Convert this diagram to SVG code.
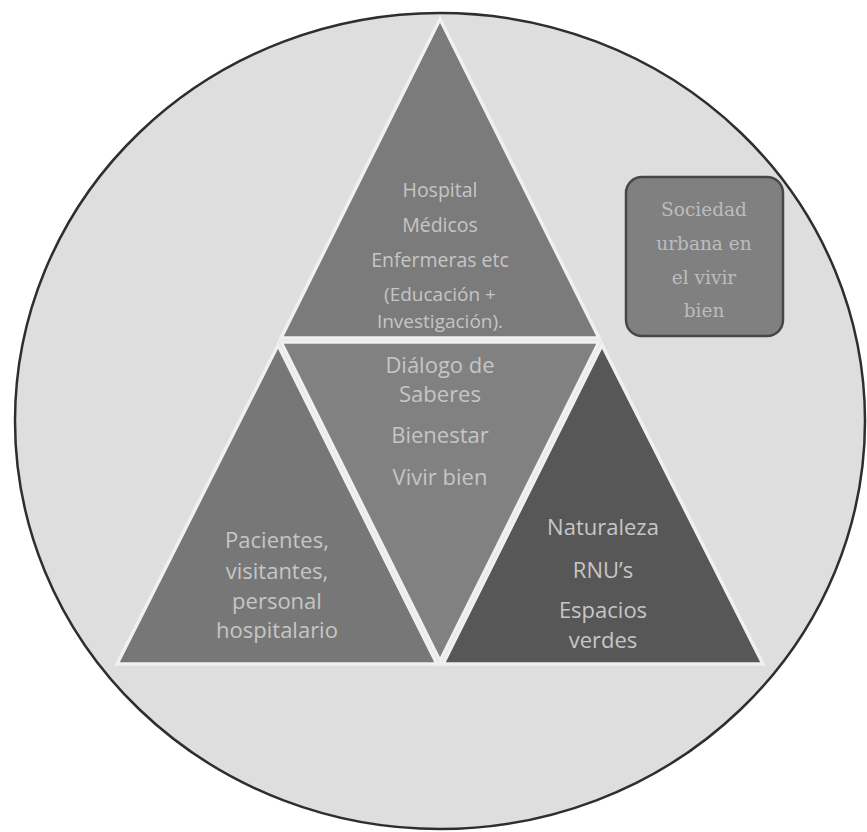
<svg xmlns="http://www.w3.org/2000/svg" width="867" height="832" viewBox="0 0 867 832">
<style>
.tri{stroke:#f0f0f0;stroke-width:3.5;stroke-linejoin:miter}
.t{font-family:"Open Sans","Liberation Sans",sans-serif;fill:#c6c6c6;text-anchor:middle}
.s{font-size:19.5px}
.s2{font-size:19px}
.l{font-size:22px}
.b{font-family:"DejaVu Serif","Liberation Serif",serif;font-size:18.5px;fill:#bdbdbd;text-anchor:middle}
</style>
<rect width="867" height="832" fill="#ffffff"/>
<g id="circle">
<ellipse cx="440" cy="421" rx="425" ry="408" fill="#dedede" stroke="#2e2e2e" stroke-width="2.5"/>
</g>
<g id="top">
<polygon class="tri" points="440,19 281,338 599,338" fill="#7b7b7b"/>
<text class="t s" x="440" y="197">Hospital</text>
<text class="t s" x="440" y="232">Médicos</text>
<text class="t s" x="440" y="267">Enfermeras etc</text>
<text class="t s2" x="440" y="301">(Educación +</text>
<text class="t s2" x="440" y="328">Investigación).</text>
</g>
<g id="middle">
<polygon class="tri" points="281,342 599,342 440,661" fill="#818181"/>
<text class="t l" x="440" y="373">Diálogo de</text>
<text class="t l" x="440" y="402">Saberes</text>
<text class="t l" x="440" y="443">Bienestar</text>
<text class="t l" x="440" y="485">Vivir bien</text>
</g>
<g id="left">
<polygon class="tri" points="278,345 117,664 437,664" fill="#777777"/>
<text class="t l" x="277" y="548">Pacientes,</text>
<text class="t l" x="277" y="579">visitantes,</text>
<text class="t l" x="277" y="609">personal</text>
<text class="t l" x="277" y="638">hospitalario</text>
</g>
<g id="right">
<polygon class="tri" points="602,345 443,664 763,664" fill="#575757"/>
<text class="t l" x="603" y="535">Naturaleza</text>
<text class="t l" x="603" y="578">RNU’s</text>
<text class="t l" x="603" y="618">Espacios</text>
<text class="t l" x="603" y="648">verdes</text>
</g>
<g id="box">
<rect x="626" y="177" width="157" height="159" rx="16" fill="#808080" stroke="#474747" stroke-width="2.5"/>
<text class="b" x="704" y="216">Sociedad</text>
<text class="b" x="704" y="250">urbana en</text>
<text class="b" x="704" y="284">el vivir</text>
<text class="b" x="704" y="317">bien</text>
</g>
<g id="connectors"/>
</svg>
